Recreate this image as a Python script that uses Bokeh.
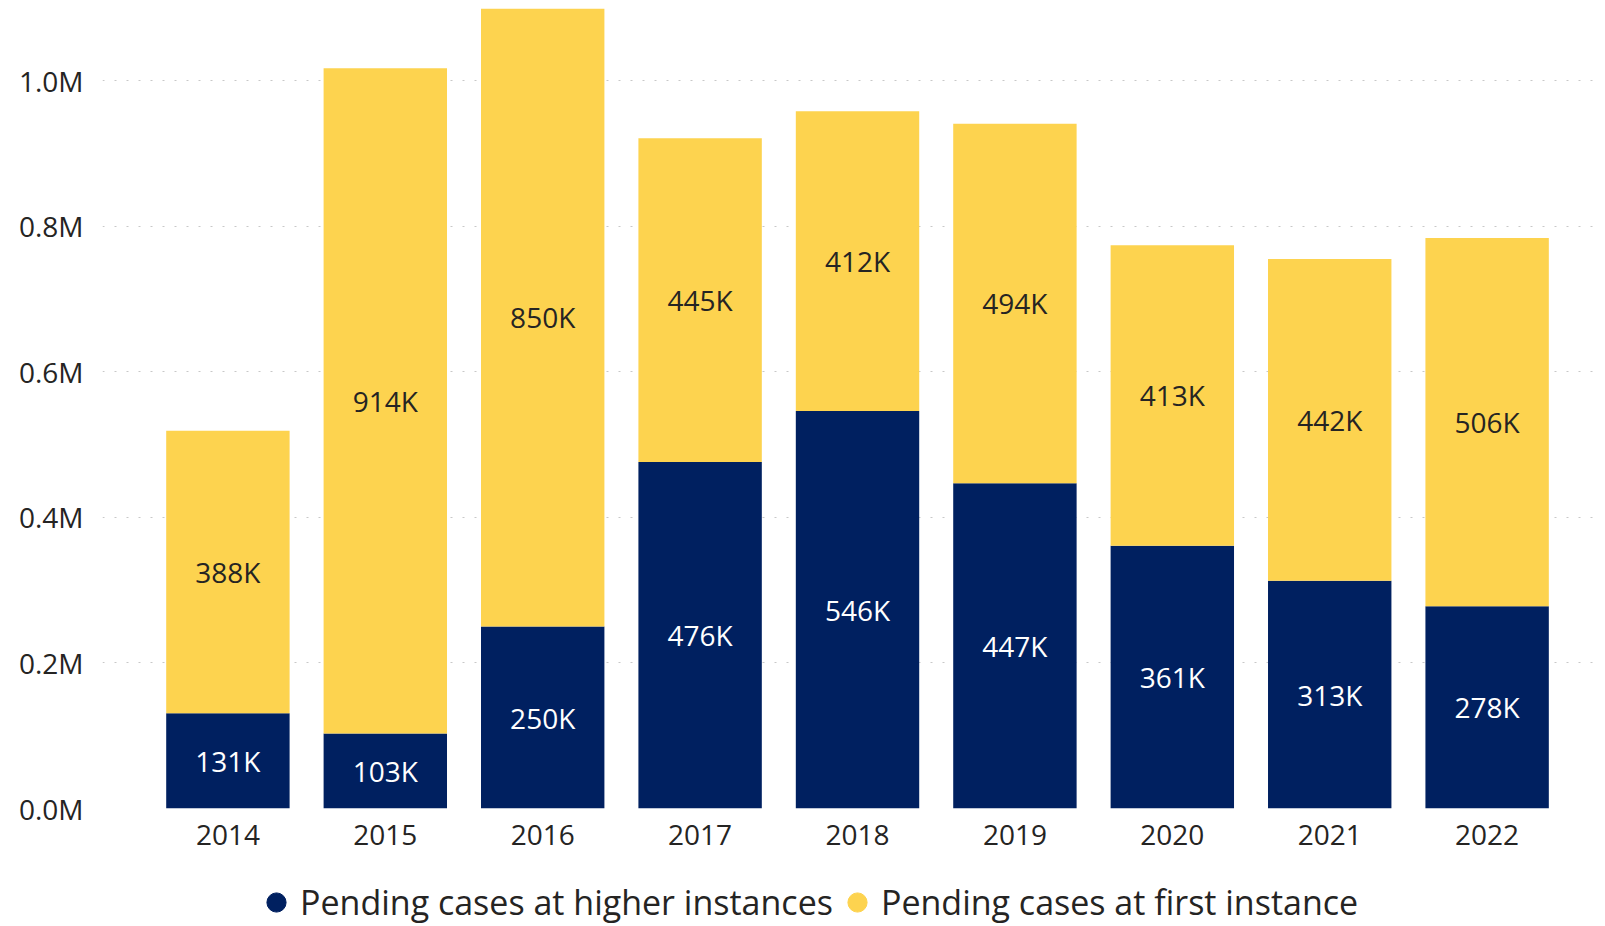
from bokeh.plotting import figure
from bokeh.models import ColumnDataSource, FixedTicker, Legend, LegendItem
from bokeh.layouts import column
from bokeh.core.properties import value
from bokeh.embed import file_html
from bokeh.resources import INLINE

years = [2014, 2015, 2016, 2017, 2018, 2019, 2020, 2021, 2022]
higher_k = [131, 103, 250, 476, 546, 447, 361, 313, 278]
first_k = [388, 914, 850, 445, 412, 494, 413, 442, 506]
y_ticks_m = [0.0, 0.2, 0.4, 0.6, 0.8, 1.0]
series_names = ["Pending cases at higher instances", "Pending cases at first instance"]

NAVY = "#002060"
YELLOW = "#FDD34F"
TXT = "#252423"
FONT = "Open Sans"

top_h = list(higher_k)
top_f = [h + f for h, f in zip(higher_k, first_k)]
src = ColumnDataSource(dict(
    x=years,
    zero=[0] * len(years),
    top_h=top_h,
    top_f=top_f,
    mid_h=[h / 2 for h in higher_k],
    mid_f=[h + f / 2 for h, f in zip(higher_k, first_k)],
    lab_h=[f"{v}K" for v in higher_k],
    lab_f=[f"{v}K" for v in first_k],
))

p = figure(width=1604, height=868, output_backend="svg", toolbar_location=None,
           x_range=(2013.2033, 2022.733), y_range=(0, 1099.2),
           min_border_left=102, min_border_right=2, min_border_top=8, min_border_bottom=60)
p.outline_line_color = None
p.background_fill_color = "white"
p.border_fill_color = "white"

p.vbar(x="x", width=0.784, bottom="zero", top="top_h", source=src,
       fill_color=NAVY, line_color=None)
p.vbar(x="x", width=0.784, bottom="top_h", top="top_f", source=src,
       fill_color=YELLOW, line_color=None)

p.text(x="x", y="mid_h", text="lab_h", source=src, text_color="white",
       text_font=value(FONT), text_font_size="28px",
       text_align="center", text_baseline="middle")
p.text(x="x", y="mid_f", text="lab_f", source=src, text_color=TXT,
       text_font=value(FONT), text_font_size="28px",
       text_align="center", text_baseline="middle")

# axes
yt = [t * 1000 for t in y_ticks_m]
p.yaxis.ticker = FixedTicker(ticks=yt)
p.yaxis.major_label_overrides = {t * 1000: f"{t:.1f}M" for t in y_ticks_m}
p.xaxis.ticker = FixedTicker(ticks=years)
p.xaxis.major_label_overrides = {y: str(y) for y in years}
for ax in (p.xaxis, p.yaxis):
    ax.axis_line_color = None
    ax.major_tick_line_color = None
    ax.minor_tick_line_color = None
    ax.major_tick_out = 0
    ax.major_tick_in = 0
    ax.minor_tick_out = 0
    ax.major_label_text_font = FONT
    ax.major_label_text_font_size = "28px"
    ax.major_label_text_color = TXT
p.yaxis.major_label_standoff = 19
p.xaxis.major_label_standoff = 16

p.xgrid.grid_line_color = None
p.ygrid.ticker = FixedTicker(ticks=yt)
p.ygrid.grid_line_color = "#c8c8c8"
p.ygrid.grid_line_dash = "2 10"
p.ygrid.grid_line_width = 1

# legend strip (separate figure under the chart)
lg = figure(width=1604, height=58, output_backend="svg", toolbar_location=None,
            x_axis_location=None, y_axis_location=None, min_border=0,
            min_border_left=0, min_border_right=0, min_border_top=0, min_border_bottom=0,
            x_range=(0, 1), y_range=(0, 1))
lg.outline_line_color = None
lg.grid.visible = False
lg.background_fill_color = "white"
lg.border_fill_color = "white"
nan = float("nan")
r1 = lg.scatter(x=[nan], y=[nan], marker="circle", fill_color=NAVY, line_color=NAVY)
r2 = lg.scatter(x=[nan], y=[nan], marker="circle", fill_color=YELLOW, line_color=YELLOW)
legend = Legend(items=[LegendItem(label=series_names[0], renderers=[r1]),
                       LegendItem(label=series_names[1], renderers=[r2])],
                location=(150, 0), orientation="horizontal",
                glyph_width=48, glyph_height=48, label_standoff=-11, spacing=-9,
                padding=0, margin=0, border_line_color=None,
                background_fill_alpha=0,
                label_text_font=FONT, label_text_font_size="34px",
                label_text_color=TXT)
lg.add_layout(legend)

layout = column(p, lg, spacing=0)
open("out.html", "w").write(file_html(layout, INLINE))
